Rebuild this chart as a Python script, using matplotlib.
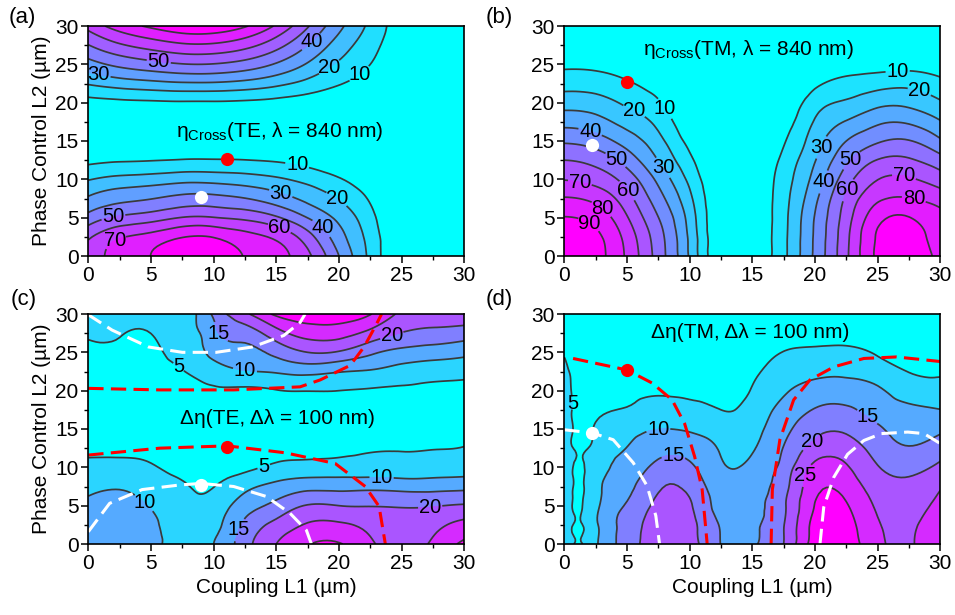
import numpy as np
import matplotlib
matplotlib.use('Agg')
import matplotlib.pyplot as plt
import matplotlib.tri as mtri
from matplotlib.ticker import MultipleLocator

plt.rcParams['font.family'] = ['Liberation Sans', 'DejaVu Sans']
plt.rcParams['mathtext.fontset'] = 'custom'
plt.rcParams['mathtext.rm'] = 'Liberation Sans'
plt.rcParams['mathtext.it'] = 'Liberation Sans:italic'

# ---------------- data ----------------
L = [0, 2.5, 5, 7.5, 10, 12.5, 15, 17.5, 20, 22.5, 25, 27.5, 30]   # grid (um)
L1_c = [0, 2.5, 5, 7.5, 8.75, 10, 12.5, 15, 17.5, 20, 22.5, 25, 27.5, 30]
L1_d = [0, 1.25, 2.5, 5, 7.5, 10, 12.5, 13.75, 15, 17.5, 20, 22.5, 25, 27.5, 30]

# (a) eta_cross TE, rows = L2, cols = L1
te_cross = [
    [63.4, 74.8, 80.1, 87.1, 87.1, 79.5, 73.4, 62.3, 40.0, 17.3, 0, 0, 0],
    [58.3, 68.9, 73.7, 79.5, 79.5, 73.8, 68.0, 54.2, 34.1, 16.0, 0, 0, 0],
    [43.9, 51.9, 55.5, 60.4, 60.4, 57.7, 51.4, 39.8, 27.5, 13.0, 0, 0, 0],
    [31.3, 37.0, 39.6, 43.1, 43.2, 40.3, 34.7, 27.3, 19.4, 8.8, 0, 0, 0],
    [19.4, 23.0, 24.6, 26.7, 26.4, 24.7, 21.6, 17.0, 10.9, 4.0, 0, 0, 0],
    [7.6, 9.0, 9.6, 10.5, 10.6, 10.2, 9.0, 6.5, 3.0, 1.0, 0, 0, 0],
    [1.4, 1.7, 1.9, 2.0, 2.0, 1.9, 1.7, 1.4, 0.9, 0.4, 0, 0, 0],
    [0.4, 0.4, 0.5, 0.5, 0.5, 0.5, 0.4, 0.3, 0.2, 0.1, 0, 0, 0],
    [6.5, 7.7, 8.4, 8.9, 8.9, 8.3, 7.0, 5.2, 3.3, 1.8, 0.5, 0, 0],
    [20.9, 24.7, 27.0, 28.7, 28.7, 26.7, 22.6, 16.8, 10.7, 5.8, 1.5, 0, 0],
    [36.0, 42.5, 46.5, 49.5, 49.5, 46.0, 39.0, 29.0, 18.5, 10.0, 2.5, 0, 0],
    [49.7, 58.7, 64.2, 68.3, 68.3, 63.5, 53.8, 40.0, 25.5, 13.8, 3.5, 0, 0],
    [63.4, 74.8, 81.8, 87.1, 87.1, 81.0, 68.6, 51.0, 32.6, 17.6, 4.4, 0, 0],
]

# (b) eta_cross TM, columns = L1, entries along L2
tm_cross_cols = [
    [97, 95, 90.4, 80.8, 69.6, 60, 48.5, 36.5, 25.8, 16.2, 7.8, 1.5, 0],
    [93.6, 92.2, 86.5, 77.1, 66.2, 56.5, 45.0, 33.8, 24.2, 15.4, 7.3, 1.0, 0],
    [78.2, 76.3, 70.8, 63.8, 55.7, 45.7, 35.6, 26.3, 18.3, 11.4, 4.0, 0, 0],
    [55.6, 54.3, 50.2, 44.2, 37.6, 29.7, 23.3, 17.1, 11.0, 5.0, 0.5, 0, 0],
    [28.8, 28.0, 26.0, 22.3, 17.4, 12.1, 7.0, 3.0, 0.5, 0, 0, 0, 0],
    [0.3, 0.3, 0.2, 0.2, 0.1, 0.1, 0, 0, 0, 0, 0, 0, 0],
    [0.5, 0.5, 0.5, 0.4, 0.4, 0.3, 0.2, 0.1, 0, 0, 0, 0, 0],
    [17.5, 17.4, 17, 16.3, 15, 12.5, 9, 5, 2, 0.5, 0, 0, 0],
    [42, 41.5, 40.6, 37.6, 33.5, 29.5, 25.2, 20.9, 15.3, 8, 2, 0, 0],
    [68, 67.3, 65.2, 61.8, 55.6, 48.1, 40, 30.7, 21.5, 13.2, 5, 0.5, 0],
    [92, 91.2, 86.7, 78, 69.8, 60.4, 48.8, 38.2, 27, 16.1, 6, 1, 0],
    [95, 93.8, 90.3, 80.4, 71.1, 61.2, 50.5, 38.6, 27.3, 17.3, 6.5, 1, 0],
    [88, 86.8, 83.3, 75.7, 65, 54.1, 41.6, 30.8, 21.2, 12.9, 4.5, 0.5, 0],
]

# (c) delta eta TE, columns = L1_c
te_delta_cols = [
    [13, 12.5, 11, 8.8, 6.1, 4, 2.5, 2.5, 3, 3.5, 4.0, 5.6, 7],
    [13, 12.8, 11.8, 9.5, 6.3, 4, 2.5, 2.3, 2.8, 3.4, 3.9, 5.4, 7.4],
    [11.5, 11, 9.7, 8, 5.5, 3.5, 2.2, 2, 2.5, 3.2, 3.7, 5.05, 8],
    [8, 7.8, 7, 5.7, 3.5, 2.5, 2, 2, 3, 4.8, 7, 9, 9],
    [8.5, 7.8, 6.0, 4.4, 3.3, 2.5, 2, 2.1, 3.6, 6.1, 8.5, 9.7, 10.3],
    [10, 8.6, 7, 4.9, 3.3, 2.5, 2, 2.3, 4.3, 7.5, 11.5, 13.8, 16],
    [18, 16, 12.5, 8.6, 4, 2.5, 2, 2.5, 4.1, 9.7, 13.5, 17.5, 24],
    [25, 21.5, 16.5, 11.5, 6, 3.2, 2, 2.5, 4.8, 10.5, 16.5, 23, 31],
    [29.7, 25.5, 20.3, 13.3, 6.8, 3.4, 2.2, 2.8, 5.1, 11.5, 20, 27, 33],
    [30.3, 25.8, 20, 13.3, 7, 3.8, 2.3, 3, 5, 10.3, 19.5, 27, 33],
    [26, 23.5, 19.8, 13.5, 7.2, 4.5, 2.5, 3, 4.6, 9.5, 16, 23.5, 30.3],
    [22, 21.5, 19.6, 13, 7.2, 4.6, 2.6, 3, 4.3, 8, 13.5, 19.8, 24],
    [26, 23.5, 19.7, 13, 7.4, 4.8, 2.7, 3, 4, 7, 12.5, 18.5, 23],
    [31, 26.5, 20.5, 13.5, 7.6, 5.2, 3, 3.2, 3.8, 6.5, 11.4, 17.5, 23.5],
]

# (d) delta eta TM, columns = L1_d
tm_delta_cols = [
    [7.5, 7.5, 7.4, 7.3, 7.2, 7.1, 7.0, 6.8, 6.5, 5.9, 4.7, 3.5, 2.5],
    [4.7, 4.65, 4.6, 4.55, 4.5, 4.4, 4.2, 3.9, 3.7, 3.5, 3.1, 2.6, 2.1],
    [9.2, 9.1, 8.8, 8.2, 7.5, 6.3, 5.4, 4.3, 3.5, 2.8, 2.2, 1.6, 1.2],
    [17.3, 17, 15.5, 13.8, 11.8, 10.1, 8.5, 5.3, 4.2, 3, 2.5, 2, 1.5],
    [23.3, 22.8, 21.5, 19.3, 16.5, 13, 10, 7, 4.4, 3, 2.5, 2, 1.5],
    [22.3, 21.8, 20.7, 18.5, 16, 12.8, 9.5, 6.5, 4.0, 3, 2.5, 2, 1.5],
    [14.9, 14.6, 13.2, 12.0, 10.7, 9.6, 7.8, 5.0, 3.8, 3, 2.5, 2, 1.5],
    [14.0, 13.7, 12.8, 11.3, 9.9, 8.7, 7.2, 5.1, 3.8, 3.2, 2.6, 2.1, 1.7],
    [14.6, 14.4, 13.8, 12.8, 11.3, 9.6, 8.4, 7.0, 5.3, 4.2, 3.2, 2.6, 2.2],
    [20, 19.8, 19.2, 18.2, 16.8, 15.2, 13.4, 11.5, 9.3, 7, 5.1, 3.5, 2.5],
    [32.5, 31.8, 30.2, 28.5, 26.5, 21.8, 18.6, 15.3, 12, 8.7, 5.8, 3.5, 2.5],
    [33, 32.2, 30.5, 28, 25.6, 22.3, 19.2, 15.8, 12.3, 9, 6, 3.5, 2.5],
    [26.2, 25.5, 24.3, 22.7, 20.3, 18, 15.8, 13, 10.8, 7.2, 4.6, 3, 2],
    [24.5, 24.2, 23.2, 21.5, 18.3, 15.3, 13, 11, 7.5, 4.9, 3.5, 3, 2.5],
    [29, 28, 26.3, 24.6, 21.2, 17.6, 14, 10.1, 7.1, 4.3, 3.2, 2.6, 2.2],
]

levels_a = [10, 20, 30, 40, 50, 60, 70, 80]
levels_b = [10, 20, 30, 40, 50, 60, 70, 80, 90]
levels_c = [5, 10, 15, 20, 25, 30]
levels_d = [5, 10, 15, 20, 25, 30]

# dashed guide curves (L1, L2)
te_red1_x = [0, 5.7, 11.1, 15.7, 19.7, 22.1, 23.2, 23.7]
te_red1_y = [11.6, 12.5, 12.8, 11.9, 10.5, 7.5, 4.9, 0]
te_red2_x = [0, 5.7, 11.6, 16.9, 18.5, 20.9, 22.0, 23.0, 23.4]
te_red2_y = [20.3, 20.1, 20.1, 20.5, 21.4, 23.3, 25.7, 28.7, 30]
te_white1_x = [0, 1.7, 4.3, 7.3, 9.0, 11.6, 14.2, 16.1, 17.4, 17.8]
te_white1_y = [1.6, 5.3, 7.1, 7.7, 7.9, 7.5, 6.2, 4.0, 1.8, 0]
te_white2_x = [0, 1.9, 4.8, 7.5, 10.2, 13.1, 15.6, 16.9, 17.3]
te_white2_y = [29.9, 27.9, 25.7, 25.0, 25.0, 25.7, 27.2, 28.9, 30]
tm_red1_x = [0.7, 5.0, 7.0, 8.6, 9.6, 10.4, 11.0, 11.4]
tm_red1_y = [24.2, 22.7, 21.0, 18.8, 15.7, 11.4, 7.1, 0]
tm_red2_x = [16.5, 16.6, 17.2, 18.3, 19.6, 21.5, 23.9, 26.5, 30]
tm_red2_y = [0, 7.1, 13.6, 18.8, 21.4, 23.1, 24.2, 24.4, 23.8]
tm_white1_x = [0, 2.2, 3.9, 5.5, 6.6, 7.3, 7.6]
tm_white1_y = [14.9, 14.5, 13.6, 10.6, 7.6, 3.7, 0]
tm_white2_x = [20.4, 20.7, 21.5, 22.6, 23.9, 25.3, 27.4, 28.7, 30]
tm_white2_y = [0, 4.8, 8.7, 11.7, 13.5, 14.4, 14.6, 14.4, 13.1]

te_red_dot = (11.1, 12.7)
te_white_dot = (9.0, 7.7)
tm_red_dot = (5.0, 22.7)
tm_white_dot = (2.2, 14.5)

# ---------------- figure ----------------
W, H = 955, 615
FS = 15
fig = plt.figure(figsize=(W / 100, H / 100), dpi=100)


def axpos(x0, x1, y0, y1):
    return [x0 / W, (H - y1) / H, (x1 - x0) / W, (y1 - y0) / H]


cmap = plt.get_cmap('cool')


def panel(rect, x, y, Z, lv, lab_pos, xlabel, ylabel):
    ax = fig.add_axes(rect)
    Z = np.asarray(Z, dtype=float)
    X, Y = np.meshgrid(np.asarray(x, float), np.asarray(y, float))
    tri = mtri.Triangulation(X.ravel(), Y.ravel())
    interp = mtri.CubicTriInterpolator(tri, Z.ravel(), kind='min_E')
    tri_f, z_f = mtri.UniformTriRefiner(tri).refine_field(
        Z.ravel(), triinterpolator=interp, subdiv=3)
    nb = len(lv) + 1
    cols = [cmap(t) for t in np.linspace(0, 1, nb)]
    ax.tricontourf(tri_f, z_f, levels=[-100] + lv + [1000], colors=cols)
    cs = ax.tricontour(tri_f, z_f, levels=lv, colors='#3a3a3a',
                       linewidths=1.25)
    txts = ax.clabel(cs, manual=lab_pos, fmt='%d', fontsize=14.5, inline=True,
                     inline_spacing=1, colors='black')
    for t in txts:
        t.set_rotation(0)
    ax.set_xlim(0, 30)
    ax.set_ylim(0, 30)
    ax.set_xticks(range(0, 31, 5))
    ax.set_yticks(range(0, 31, 5))
    ax.xaxis.set_minor_locator(MultipleLocator(2.5))
    ax.yaxis.set_minor_locator(MultipleLocator(2.5))
    ax.tick_params(which='major', direction='out', length=5, width=1.1,
                   labelsize=FS, top=False, right=False, pad=2)
    ax.tick_params(which='minor', direction='out', length=3, width=1.0,
                   top=False, right=False)
    for s in ax.spines.values():
        s.set_linewidth(1.2)
        s.set_zorder(10)
    if xlabel:
        ax.set_xlabel('Coupling L1 (µm)', fontsize=FS, labelpad=4)
    if ylabel:
        ax.set_ylabel('Phase Control L2 (µm)', fontsize=FS, labelpad=3)
    return ax


def dashed(ax, xs, ys, color):
    ax.plot(xs, ys, color=color, lw=2.2, dashes=(5, 2.4), zorder=4,
            dash_capstyle='butt')


def dot(ax, p, color):
    ax.plot([p[0]], [p[1]], 'o', ms=9.5, color=color, mec='none', zorder=6)


# (a)
ax_a = panel(axpos(88.3, 464.3, 26, 256), L, L, te_cross, levels_a,
             [(16.6, 11.4), (19.6, 6.9), (15.4, 8.4), (18.4, 3.2), (2.0, 5.1),
              (15.2, 3.4), (2.3, 1.4), (21.4, 24.3), (19.2, 24.7), (0.9, 24.3),
              (17.8, 27.9), (5.6, 25.1)], False, True)
ax_a.text(15.3, 16.2, r'η$_{\mathrm{Cross}}$(TE, λ = 840 nm)', ha='center',
          va='center', fontsize=FS)
dot(ax_a, te_red_dot, 'red')
dot(ax_a, te_white_dot, 'white')

# (b)
ax_b = panel(axpos(564.3, 940.3, 26, 256), L, L, np.array(tm_cross_cols).T,
             levels_b,
             [(8.1, 19.3), (5.6, 19.0), (7.77, 11.4), (2.1, 16.4), (4.0, 12.3),
              (5.06, 8.6), (1.33, 10.3), (3.1, 6.4), (2.1, 4.5),
              (26.6, 24.0), (28.2, 20.8), (20.75, 14.0), (20.6, 9.7),
              (23.0, 12.3), (22.6, 8.6), (27.1, 10.3), (27.9, 7.5)], False, False)
ax_b.text(14.7, 26.9, r'η$_{\mathrm{Cross}}$(TM, λ = 840 nm)', ha='center',
          va='center', fontsize=FS)
dot(ax_b, tm_red_dot, 'red')
dot(ax_b, tm_white_dot, 'white')

# (c)
ax_c = panel(axpos(88.3, 464.3, 314, 544), L1_c, L, np.array(te_delta_cols).T,
             levels_c,
             [(10.9, 28.1), (7.2, 23.1), (12.5, 22.7), (24.2, 27.3),
              (14.0, 10.1), (23.4, 8.6), (4.4, 5.3), (11.8, 2.0), (27.3, 4.5)],
             True, True)
ax_c.text(15.1, 16.4, 'Δη(TE, Δλ = 100 nm)', ha='center', va='center',
          fontsize=FS)
dashed(ax_c, te_red1_x, te_red1_y, 'red')
dashed(ax_c, te_red2_x, te_red2_y, 'red')
dashed(ax_c, te_white1_x, te_white1_y, 'white')
dashed(ax_c, te_white2_x, te_white2_y, 'white')
dot(ax_c, te_red_dot, 'red')
dot(ax_c, te_white_dot, 'white')

# (d)
ax_d = panel(axpos(564.3, 940.3, 314, 544), L1_d, L, np.array(tm_delta_cols).T,
             levels_d,
             [(1.4, 18.4), (7.5, 14.9), (8.7, 10.5), (24.0, 16.2), (19.6, 13.6),
              (19.2, 9.0)], True, False)
ax_d.text(14.8, 27.6, 'Δη(TM, Δλ = 100 nm)', ha='center', va='center',
          fontsize=FS)
dashed(ax_d, tm_red1_x, tm_red1_y, 'red')
dashed(ax_d, tm_red2_x, tm_red2_y, 'red')
dashed(ax_d, tm_white1_x, tm_white1_y, 'white')
dashed(ax_d, tm_white2_x, tm_white2_y, 'white')
dot(ax_d, tm_red_dot, 'red')
dot(ax_d, tm_white_dot, 'white')

for lab, (px, py) in zip(['(a)', '(b)', '(c)', '(d)'],
                         [(22, 17), (499, 17), (24, 299), (499, 300)]):
    fig.text(px / W, 1 - py / H, lab, fontsize=16, ha='center', va='center')

fig.savefig('out.png', dpi=100)
